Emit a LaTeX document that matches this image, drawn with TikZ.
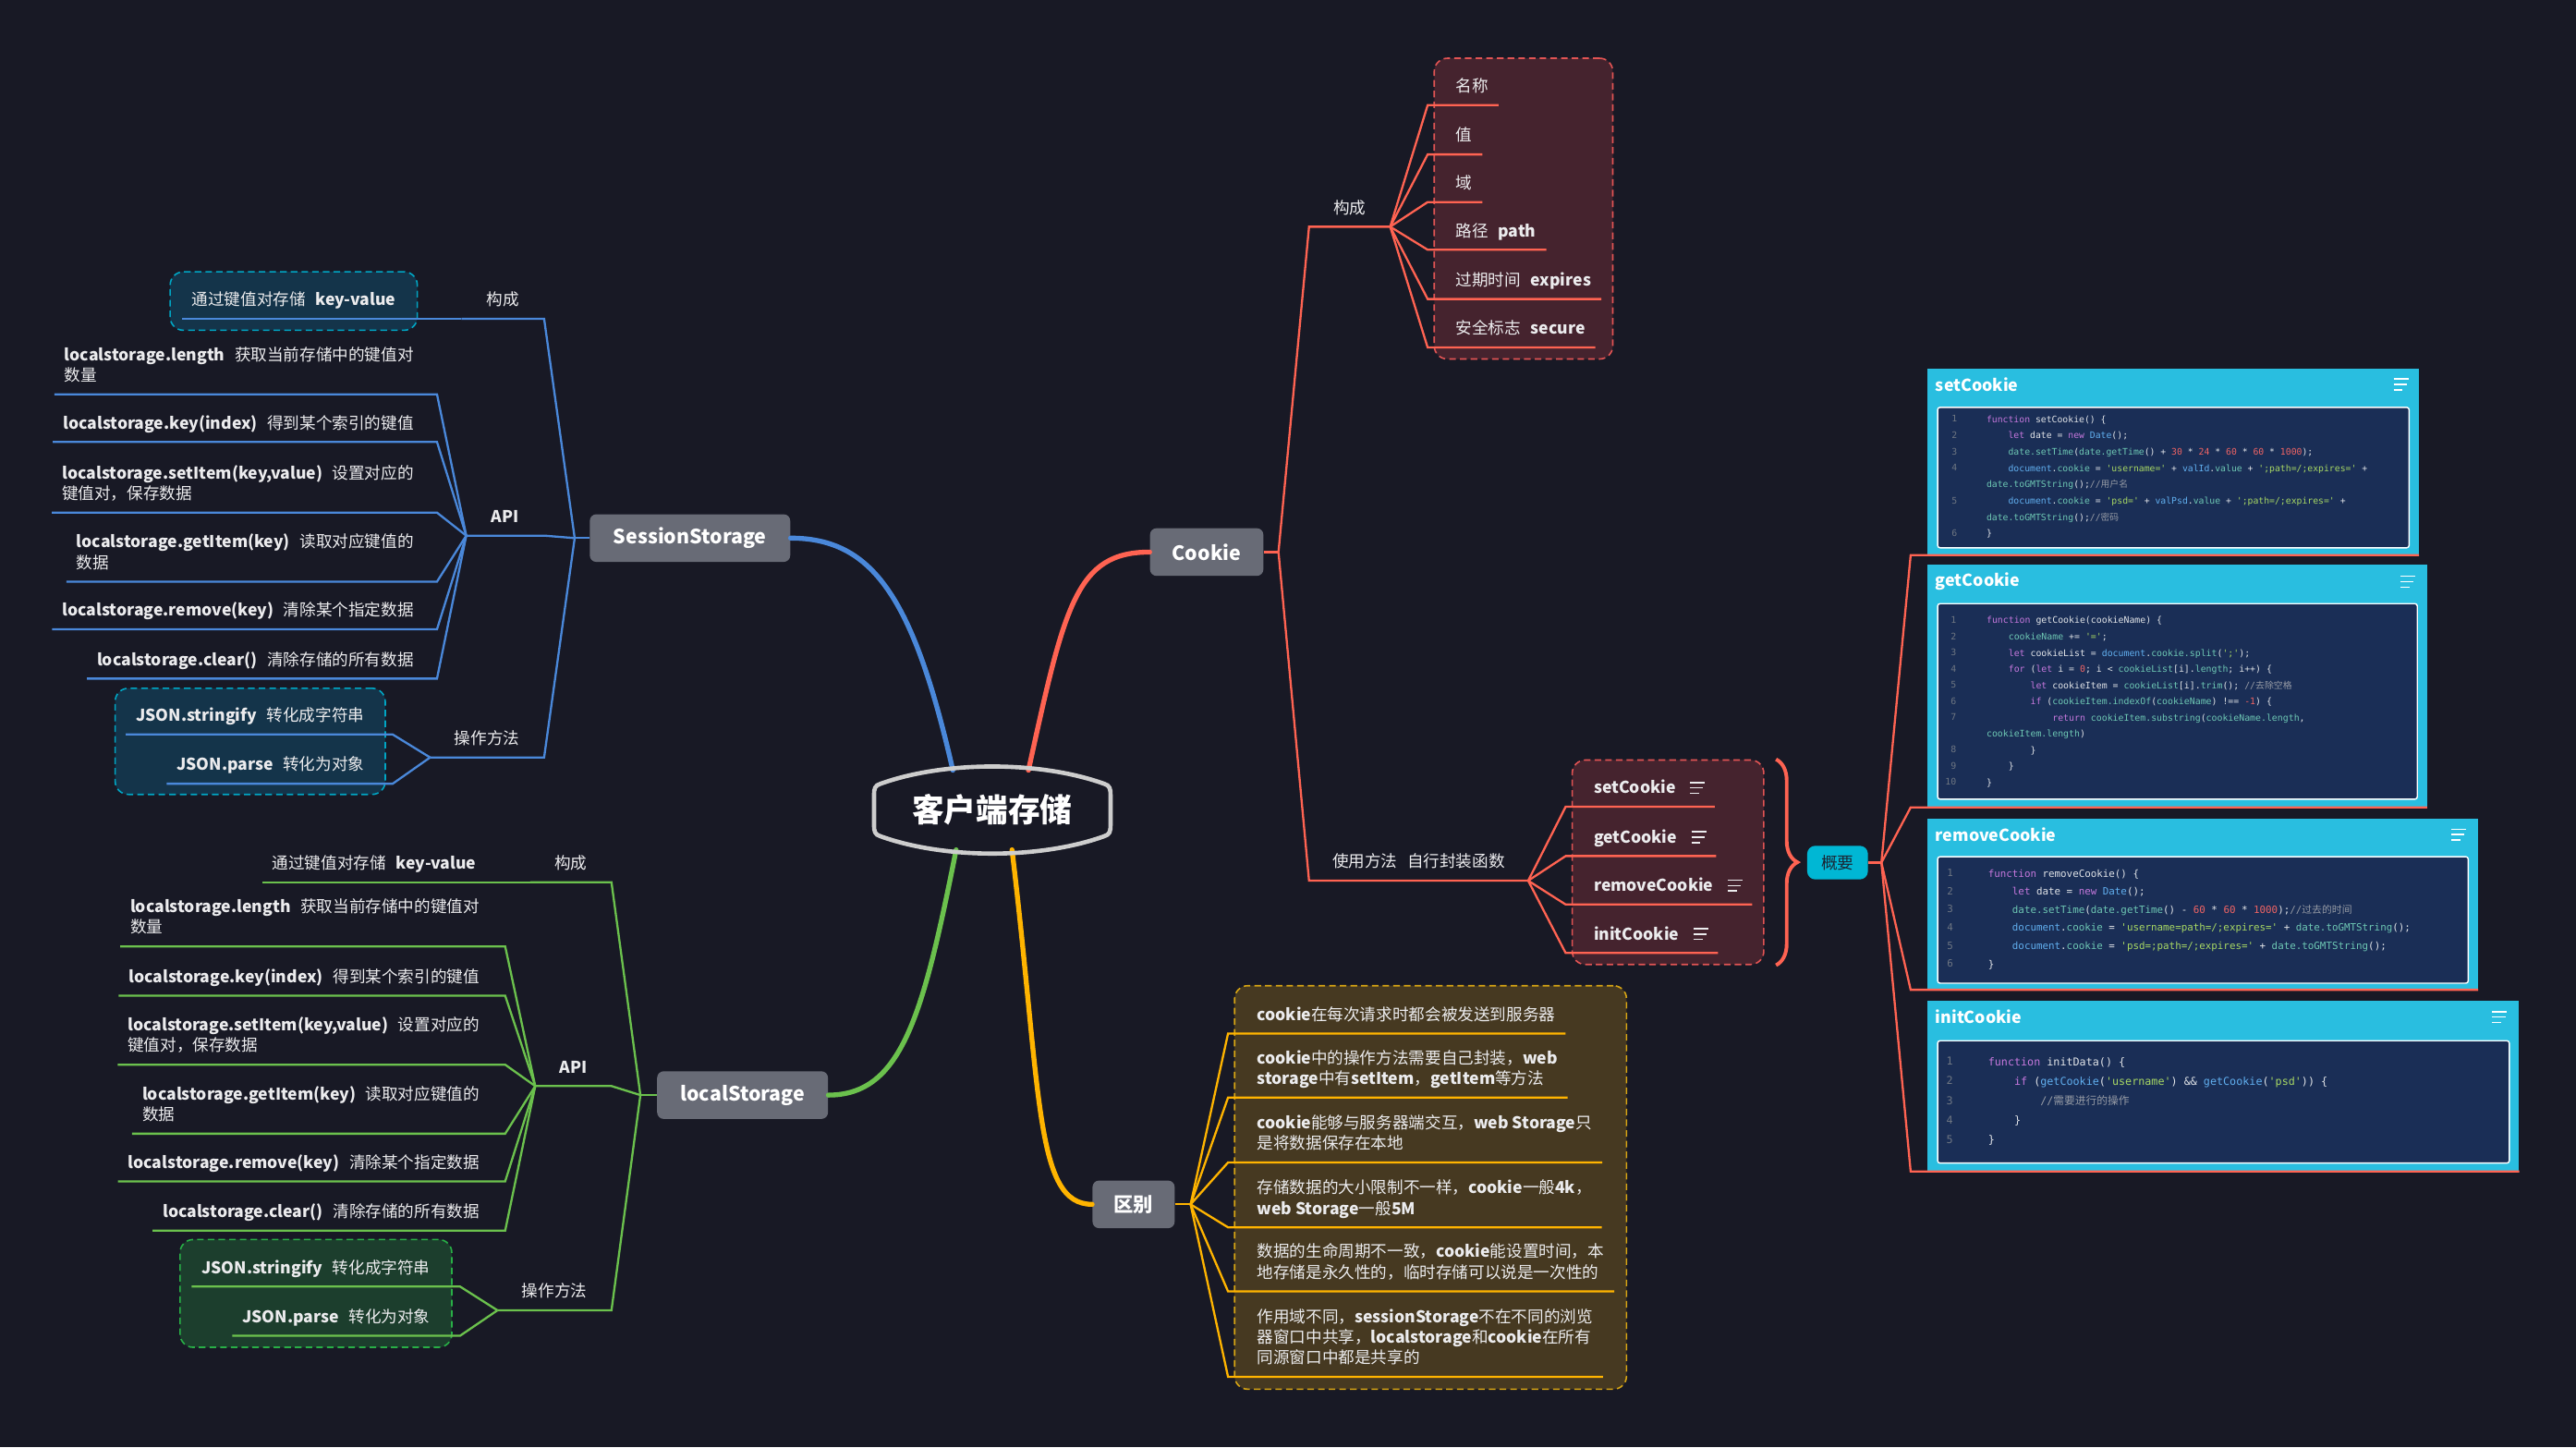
\documentclass[tikz,border=0pt]{standalone}
\usepackage{fontspec}
\setmainfont{Noto Sans CJK SC}
\newfontfamily\cjk{Noto Sans CJK SC}
\newfontfamily\codefont{DejaVu Sans Mono}
\usetikzlibrary{positioning, fit, backgrounds, calc, decorations.pathreplacing}
\definecolor{cbg}{RGB}{24,25,37}
\definecolor{cnode}{RGB}{104,107,118}
\definecolor{croot}{RGB}{205,205,205}
\definecolor{ctext}{RGB}{236,236,238}
\definecolor{cblu}{RGB}{74,136,218}
\definecolor{cgrn}{RGB}{107,193,77}
\definecolor{cred}{RGB}{255,99,82}
\definecolor{cyel}{RGB}{255,180,0}
\definecolor{ctealb}{RGB}{0,166,196}
\definecolor{ctealf}{RGB}{20,52,74}
\definecolor{cgrnb}{RGB}{40,175,70}
\definecolor{cgrnf}{RGB}{28,62,45}
\definecolor{credb}{RGB}{226,84,84}
\definecolor{credf}{RGB}{69,35,46}
\definecolor{cyelb}{RGB}{214,164,20}
\definecolor{cyelf}{RGB}{70,57,33}
\definecolor{ccard}{RGB}{41,190,224}
\definecolor{cpanel}{RGB}{26,46,86}
\definecolor{cgy}{RGB}{0,183,212}
\definecolor{cgytext}{RGB}{27,38,52}
\definecolor{ckw}{RGB}{198,120,221}
\definecolor{cvar}{RGB}{97,175,239}
\definecolor{cmem}{RGB}{110,200,180}
\definecolor{cstr}{RGB}{168,216,100}
\definecolor{cnum}{RGB}{240,100,100}
\definecolor{ccom}{RGB}{150,155,165}
\definecolor{cpl}{RGB}{225,228,232}
\definecolor{cln}{RGB}{110,118,130}
\newcommand\gp{\hspace{0.6em}}
\newcommand\ind{\hspace*{2.408em}}
\newcommand\kw[1]{\textcolor{ckw}{#1}}
\newcommand\vr[1]{\textcolor{cvar}{#1}}
\newcommand\mb[1]{\textcolor{cmem}{#1}}
\newcommand\st[1]{\textcolor{cstr}{#1}}
\newcommand\nm[1]{\textcolor{cnum}{#1}}
\newcommand\cm[1]{\textcolor{ccom}{#1}}
\tikzset{
  root/.style={text=white, font=\fontsize{19.5}{22}\selectfont\bfseries,
               minimum width=144, minimum height=54, inner sep=0},
  mnode/.style={fill=cnode, rounded corners=4pt, text=white, inner sep=0,
                font=\fontsize{12}{14}\selectfont\bfseries, minimum height=29},
  lbl/.style={text=ctext, font=\fontsize{9.9}{12.6}\selectfont, anchor=south,
              inner xsep=0, inner ysep=5pt, execute at end node={\rule[-2.8pt]{0pt}{0pt}}},
  lfl/.style={text=ctext, font=\fontsize{9.9}{12.6}\selectfont, align=left, anchor=south east,
              inner xsep=6pt, inner ysep=5pt, execute at end node={\rule[-2.8pt]{0pt}{0pt}}},
  lfr/.style={lfl, anchor=south west},
  grp/.style={dash pattern=on 4pt off 2.5pt, line width=0.9pt, rounded corners=8pt},
  mbr/.style={line width=3pt, line cap=round},
  br/.style={line width=1.3pt},
  gy/.style={fill=cgy, rounded corners=5pt, text=cgytext, minimum width=37, minimum height=20.5,
             inner sep=0, font=\fontsize{10}{12}\selectfont},
  card/.style={fill=ccard, anchor=north west, inner sep=0},
  cpanel/.style={fill=cpanel, draw=white!90, line width=0.8pt, rounded corners=1.5pt,
                 anchor=north west, inner sep=0},
  ctitle/.style={text=white, font=\fontsize{10}{12}\selectfont\bfseries, anchor=west, inner sep=0},
  lnum/.style={text=cln, align=right, anchor=north east, inner sep=0},
  code/.style={text=cpl, align=left, anchor=north west, inner sep=0},
  notes/.pic={\draw[line width=0.9pt] (0,-3.3) -- (9,-3.3) (0,0) -- (8,0) (0,3.3) -- (5.5,3.3);},
}
\begin{document}
\begin{tikzpicture}[x=1pt, y=-1pt]
\useasboundingbox (0,0) rectangle (1568,881);

% ---------- 中心主题 ----------
\node[root] (root) at (604,493) {客户端存储};

% ---------- 一级分支 ----------
\node[mnode, minimum width=122] (ss) at (420,327.5) {SessionStorage};
\node[mnode, minimum width=104] (ls) at (452,666.5) {localStorage};
\node[mnode, minimum width=69] (ck) at (734.5,336) {Cookie};
\node[mnode, minimum width=50] (df) at (690,733) {区别};

\draw[mbr, draw=cblu] ([xshift=-24,yshift=-3]root.north) .. controls +(-24,-105) and +(50,0) .. (ss.east);
\draw[mbr, draw=cred] ([xshift=22,yshift=-3]root.north) .. controls +(22,-100) and +(-45,0) .. (ck.west);
\draw[mbr, draw=cgrn] ([xshift=-22,yshift=3]root.south) .. controls +(-20,100) and +(45,0) .. (ls.east);
\draw[mbr, draw=cyel] ([xshift=12,yshift=3]root.south) .. controls +(18,150) and +(-35,0) .. (df.west);

\draw[line width=2.6pt, draw=croot] (536,477) .. controls (575,463) and (633,463) .. (672,477)
  .. controls (675.5,478) and (676,480) .. (676,484) -- (676,502)
  .. controls (676,506) and (675.5,508) .. (672,509)
  .. controls (633,523) and (575,523) .. (536,509)
  .. controls (532.5,508) and (532,506) .. (532,502) -- (532,484)
  .. controls (532,480) and (532.5,478) .. (536,477) -- cycle;

% ---------- SessionStorage ----------
\coordinate (sJ) at ([xshift=-9]ss.west);
\node[lbl, minimum width=50] (sGou) at (306,194) {构成};
\node[lbl, minimum width=47] (sApi) at (307.5,326) {\textbf{API}};
\node[lbl, minimum width=69] (sOp) at (296.5,461) {操作方法};

\node[lfl] (sKv) at (247,194) {通过键值对存储\gp\textbf{key-value}};
\node[lfl] (sA1) at (258,240) {\textbf{localstorage.length}\gp 获取当前存储中的键值对\\数量};
\node[lfl] (sA2) at (258,269) {\textbf{localstorage.key(index)}\gp 得到某个索引的键值};
\node[lfl] (sA3) at (258,312) {\textbf{localstorage.setItem(key,value)}\gp 设置对应的\\键值对，保存数据};
\node[lfl] (sA4) at (258,354) {\textbf{localstorage.getItem(key)}\gp 读取对应键值的\\数据};
\node[lfl] (sA5) at (258,383) {\textbf{localstorage.remove(key)}\gp 清除某个指定数据};
\node[lfl] (sA6) at (258,413) {\textbf{localstorage.clear()}\gp 清除存储的所有数据};
\node[lfl] (sO1) at (228,447) {\textbf{JSON.stringify}\gp 转化成字符串};
\node[lfl] (sO2) at (228,477) {\textbf{JSON.parse}\gp 转化为对象};

\draw[br, draw=cblu] (ss.west) -- (sJ);
\foreach \x in {sGou,sApi,sOp}
  \draw[br, draw=cblu] (sJ) -- (\x.south east) -- (\x.south west);
\draw[br, draw=cblu] (sGou.south west) -- ([xshift=8]sKv.south east) -- (sKv.south west);
\foreach \x in {sA1,sA2,sA3,sA4,sA5,sA6}
  \draw[br, draw=cblu] (sApi.south west) -- ([xshift=8]\x.south east) -- (\x.south west);
\foreach \x in {sO1,sO2}
  \draw[br, draw=cblu] (sOp.south west) -- ([xshift=11]\x.south east) -- (\x.south west);

% ---------- localStorage ----------
\coordinate (lJ) at ([xshift=-10]ls.west);
\node[lbl, minimum width=49] (lGou) at (347.5,537) {构成};
\node[lbl, minimum width=46] (lApi) at (349,661) {\textbf{API}};
\node[lbl, minimum width=69] (lOp) at (337.5,797.5) {操作方法};

\node[lfl] (lKv) at (296,537) {通过键值对存储\gp\textbf{key-value}};
\node[lfl] (lA1) at (298,576) {\textbf{localstorage.length}\gp 获取当前存储中的键值对\\数量};
\node[lfl] (lA2) at (298,606) {\textbf{localstorage.key(index)}\gp 得到某个索引的键值};
\node[lfl] (lA3) at (298,648) {\textbf{localstorage.setItem(key,value)}\gp 设置对应的\\键值对，保存数据};
\node[lfl] (lA4) at (298,690) {\textbf{localstorage.getItem(key)}\gp 读取对应键值的\\数据};
\node[lfl] (lA5) at (298,719) {\textbf{localstorage.remove(key)}\gp 清除某个指定数据};
\node[lfl] (lA6) at (298,749) {\textbf{localstorage.clear()}\gp 清除存储的所有数据};
\node[lfl] (lO1) at (268,783) {\textbf{JSON.stringify}\gp 转化成字符串};
\node[lfl] (lO2) at (268,813) {\textbf{JSON.parse}\gp 转化为对象};

\draw[br, draw=cgrn] (ls.west) -- (lJ);
\foreach \x in {lGou,lApi,lOp}
  \draw[br, draw=cgrn] (lJ) -- (\x.south east) -- (\x.south west);
\draw[br, draw=cgrn] (lGou.south west) -- ([xshift=8]lKv.south east) -- (lKv.south west);
\foreach \x in {lA1,lA2,lA3,lA4,lA5,lA6}
  \draw[br, draw=cgrn] (lApi.south west) -- ([xshift=9.5]\x.south east) -- (\x.south west);
\foreach \x in {lO1,lO2}
  \draw[br, draw=cgrn] (lOp.south west) -- ([xshift=12]\x.south east) -- (\x.south west);

% ---------- Cookie ----------
\coordinate (cJ) at ([xshift=9]ck.east);
\node[lbl, minimum width=49] (cGou) at (821.5,138) {构成};
\node[lbl, minimum width=133] (cUse) at (863.5,536) {使用方法\gp 自行封装函数};

\node[lfr] (cg1) at (880,64) {名称};
\node[lfr] (cg2) at (880,94) {值};
\node[lfr] (cg3) at (880,123) {域};
\node[lfr] (cg4) at (880,152) {路径\gp\textbf{path}};
\node[lfr] (cg5) at (880,182) {过期时间\gp\textbf{expires}};
\node[lfr] (cg6) at (880,211.5) {安全标志\gp\textbf{secure}};

\node[lfr] (cu1) at (964,491) {\textbf{setCookie}\hspace*{17.5pt}};
\node[lfr] (cu2) at (964,521) {\textbf{getCookie}\hspace*{17.5pt}};
\node[lfr] (cu3) at (964,550.5) {\textbf{removeCookie}\hspace*{17.5pt}};
\node[lfr] (cu4) at (964,580) {\textbf{initCookie}\hspace*{17.5pt}};
\foreach \x in {cu1,cu2,cu3,cu4}
  \pic[color=ctext] at ([xshift=-15,yshift=0.8]\x.east) {notes};

\draw[br, draw=cred] (ck.east) -- (cJ);
\foreach \x in {cGou,cUse}
  \draw[br, draw=cred] (cJ) -- (\x.south west) -- (\x.south east);
\foreach \x in {cg1,cg2,cg3,cg4,cg5,cg6}
  \draw[br, draw=cred] (cGou.south east) -- ([xshift=-11]\x.south west) -- (\x.south east);
\foreach \x in {cu1,cu2,cu3,cu4}
  \draw[br, draw=cred] (cUse.south east) -- ([xshift=-11]\x.south west) -- (\x.south east);

\node[gy] (gy) at (1118.5,525) {概要};
\coordinate (gJ) at ([xshift=8]gy.east);

% ---------- 代码卡片 ----------
\node[card, minimum width=299, minimum height=113.5] (cset) at (1173,224) {};
\node[cpanel, minimum width=287, minimum height=85.5] (csetP) at (1179,247.5) {};
\node[ctitle] (csetT) at (1178,234) {setCookie};
\pic[color=white] at (1457,234) {notes};
\node[lnum, font=\codefont\fontsize{5.5}{9.95}\selectfont] at (1191.5,252.7) {1\\2\\3\\4\\\mbox{}\\5\\\mbox{}\\6};
\node[code, font=\codefont\fontsize{5.5}{9.95}\selectfont] (csetC) at (1209,252.7) {%
\kw{function} setCookie() \{\\
\ind\kw{let} date = \kw{new} \vr{Date}();\\
\ind\mb{date.setTime}(\mb{date.getTime}() + \nm{30} * \nm{24} * \nm{60} * \nm{60} * \nm{1000});\\
\ind\vr{document}.\mb{cookie} = \st{'username='} + \vr{valId}.\mb{value} + \st{';path=/;expires='} +\\
\mb{date.toGMTString}();\cm{//{\cjk 用户名}}\\
\ind\vr{document}.\mb{cookie} = \st{'psd='} + \vr{valPsd}.\mb{value} + \st{';path=/;expires='} +\\
\mb{date.toGMTString}();\cm{//{\cjk 密码}}\\
\}};

\node[card, minimum width=304, minimum height=147.5] (cget) at (1173,343.5) {};
\node[cpanel, minimum width=292, minimum height=119] (cgetP) at (1179,367) {};
\node[ctitle] (cgetT) at (1178,354) {getCookie};
\pic[color=white] at (1461,354) {notes};
\node[lnum, font=\codefont\fontsize{5.55}{9.85}\selectfont] at (1191,375.2) {1\\2\\3\\4\\5\\6\\7\\\mbox{}\\8\\9\\10};
\node[code, font=\codefont\fontsize{5.55}{9.85}\selectfont] (cgetC) at (1209,375.2) {%
\kw{function} getCookie(cookieName) \{\\
\ind\mb{cookieName} += \st{'='};\\
\ind\kw{let} cookieList = \vr{document}.\mb{cookie.split}(\st{';'});\\
\ind\kw{for} (\kw{let} i = \nm{0}; i < \mb{cookieList}[i].\mb{length}; i++) \{\\
\ind\ind\kw{let} cookieItem = \mb{cookieList}[i].\mb{trim}(); \cm{//{\cjk 去除空格}}\\
\ind\ind\kw{if} (\mb{cookieItem.indexOf}(\mb{cookieName}) !== \nm{-1}) \{\\
\ind\ind\ind\kw{return} \mb{cookieItem.substring}(\mb{cookieName.length},\\
\mb{cookieItem.length})\\
\ind\ind\}\\
\ind\}\\
\}};

\node[card, minimum width=335, minimum height=104] (crem) at (1173,498) {};
\node[cpanel, minimum width=323, minimum height=77] (cremP) at (1179,521) {};
\node[ctitle] (cremT) at (1178,508) {removeCookie};
\pic[color=white] at (1492,508) {notes};
\node[lnum, font=\codefont\fontsize{6.1}{11}\selectfont] at (1189,529) {1\\2\\3\\4\\5\\6};
\node[code, font=\codefont\fontsize{6.1}{11}\selectfont] (cremC) at (1210,529) {%
\kw{function} removeCookie() \{\\
\ind\kw{let} date = \kw{new} \vr{Date}();\\
\ind\mb{date.setTime}(\mb{date.getTime}() - \nm{60} * \nm{60} * \nm{1000});\cm{//{\cjk 过去的时间}}\\
\ind\vr{document}.\mb{cookie} = \st{'username=path=/;expires='} + \mb{date.toGMTString}();\\
\ind\vr{document}.\mb{cookie} = \st{'psd=;path=/;expires='} + \mb{date.toGMTString}();\\
\}};

\node[card, minimum width=360, minimum height=103.6] (cini) at (1173,609) {};
\node[cpanel, minimum width=348, minimum height=74.5] (ciniP) at (1179,633) {};
\node[ctitle] (ciniT) at (1178,619) {initCookie};
\pic[color=white] at (1517,619) {notes};
\node[lnum, font=\codefont\fontsize{6.6}{11.9}\selectfont] at (1189,643.3) {1\\2\\3\\4\\5};
\node[code, font=\codefont\fontsize{6.6}{11.9}\selectfont] (ciniC) at (1210,643.3) {%
\kw{function} initData() \{\\
\ind\kw{if} (\vr{getCookie}(\st{'username'}) \&\& \vr{getCookie}(\st{'psd'})) \{\\
\ind\ind\cm{//{\cjk 需要进行的操作}}\\
\ind\}\\
\}};

\draw[br, draw=cred] (gy.east) -- (gJ);
\foreach \x in {cset,cget,crem,cini}
  \draw[br, draw=cred] (gJ) -- ([xshift=-10]\x.south west) -- (\x.south east);

% ---------- 区别 ----------
\coordinate (dJ) at ([xshift=9.5]df.east);
\node[lfr] (d1) at (759,629) {\textbf{cookie}在每次请求时都会被发送到服务器};
\node[lfr] (d2) at (759,668) {\textbf{cookie}中的操作方法需要自己封装，\textbf{web}\\\textbf{storage}中有\textbf{setItem}，\textbf{getItem}等方法};
\node[lfr] (d3) at (759,707.5) {\textbf{cookie}能够与服务器端交互，\textbf{web Storage}只\\是将数据保存在本地};
\node[lfr] (d4) at (759,747) {存储数据的大小限制不一样，\textbf{cookie}一般\textbf{4k}，\\\textbf{web Storage}一般\textbf{5M}};
\node[lfr] (d5) at (759,786) {数据的生命周期不一致，\textbf{cookie}能设置时间，本\\地存储是永久性的，临时存储可以说是一次性的};
\node[lfr] (d6) at (759,838) {作用域不同，\textbf{sessionStorage}不在不同的浏览\\器窗口中共享，\textbf{localstorage}和\textbf{cookie}在所有\\同源窗口中都是共享的};

\draw[br, draw=cyel] (df.east) -- (dJ);
\foreach \x in {d1,d2,d3,d4,d5,d6}
  \draw[br, draw=cyel] (dJ) -- ([xshift=-11.5]\x.south west) -- (\x.south east);

% ---------- 背景与分组框 ----------
\begin{scope}[on background layer]
  \fill[cbg] (0,0) rectangle (1568,881);
  \node[grp, draw=ctealb, fill=ctealf, inner sep=7pt, fit=(sKv)] (sKvBox) {};
  \node[grp, draw=ctealb, fill=ctealf, inner sep=6.5pt, fit=(sO1)(sO2)] (sOpBox) {};
  \node[grp, draw=cgrnb, fill=cgrnf, inner sep=7pt, fit=(lO1)(lO2)] (lOpBox) {};
  \node[grp, draw=credb, fill=credf, inner sep=7pt, fit=(cg1)(cg2)(cg3)(cg4)(cg5)(cg6)] (cgBox) {};
  \node[grp, draw=credb, fill=credf, inner sep=7pt, fit=(cu1)(cu2)(cu3)(cu4)] (cuBox) {};
  \node[grp, draw=cyelb, fill=cyelf, inner sep=7.5pt, fit=(d1)(d2)(d3)(d4)(d5)(d6)] (dBox) {};
\end{scope}

\draw[decorate, decoration={brace, amplitude=13pt}, line width=2.2pt, draw=cred]
  ([xshift=7]cuBox.north east) -- ([xshift=7]cuBox.south east);

\end{tikzpicture}
\end{document}
